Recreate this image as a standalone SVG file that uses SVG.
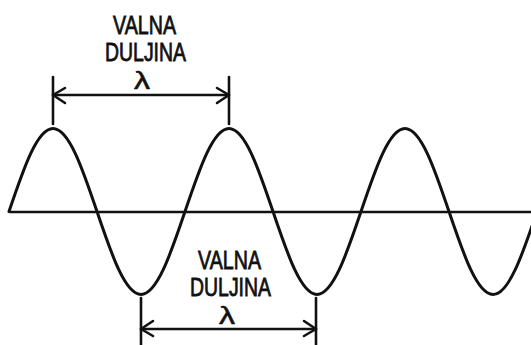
<svg xmlns="http://www.w3.org/2000/svg" width="531" height="345" viewBox="0 0 531 345">
  <defs>
    <style>
      .ln { stroke: #111; stroke-width: 2.6; fill: none; stroke-linecap: round; stroke-linejoin: round; }
      .wave { stroke: #111; stroke-width: 3; fill: none; stroke-linecap: round; }
      .lbl { font-family: "Liberation Sans", Arial, sans-serif; font-size: 26px; fill: #111; stroke: #111; stroke-width: 0.8; }
      .lam { font-family: "Liberation Sans", Arial, sans-serif; font-size: 23px; fill: #111; stroke: #111; stroke-width: 0.5; }
    </style>
  </defs>
  <rect width="531" height="345" fill="#fff"/>
  <g id="axis">
    <line class="ln" x1="10" y1="212" x2="531" y2="212"/>
  </g>
  <g id="wave">
    <path class="wave" d="M9,211.5 c14.35,-42.5 28.08,-83 44,-83 s29.65,40.5 44,83 s28.08,83 44,83 s29.65,-40.5 44,-83 s28.08,-83 44,-83 s29.65,40.5 44,83 s28.08,83 44,83 s29.65,-40.5 44,-83 s28.08,-83 44,-83 s29.65,40.5 44,83 s28.08,83 44,83 s29.65,-40.5 44,-83"/>
  </g>
  <g id="connectors">
    <g id="dim-top">
      <line class="ln" x1="53" y1="77" x2="53" y2="124"/>
      <line class="ln" x1="229" y1="77" x2="229" y2="124"/>
      <line class="ln" x1="53" y1="95" x2="229" y2="95"/>
      <polyline class="ln" points="65,88 53,95 65,103"/>
      <polyline class="ln" points="217,88 229,95 217,103"/>
    </g>
    <g id="dim-bottom">
      <line class="ln" x1="141" y1="298" x2="141" y2="345"/>
      <line class="ln" x1="316" y1="298" x2="316" y2="345"/>
      <line class="ln" x1="141" y1="329" x2="316" y2="329"/>
      <polyline class="ln" points="153,321 141,329 153,336"/>
      <polyline class="ln" points="304,321 316,329 304,336"/>
    </g>
  </g>
  <g id="label-top">
    <text class="lbl" x="113" y="34" textLength="63" lengthAdjust="spacingAndGlyphs">VALNA</text>
    <text class="lbl" x="105" y="61" textLength="81" lengthAdjust="spacingAndGlyphs">DULJINA</text>
    <text class="lam" x="134" y="88.5" textLength="16" lengthAdjust="spacingAndGlyphs">λ</text>
  </g>
  <g id="label-bottom">
    <text class="lbl" x="198" y="269" textLength="63" lengthAdjust="spacingAndGlyphs">VALNA</text>
    <text class="lbl" x="190" y="296" textLength="81" lengthAdjust="spacingAndGlyphs">DULJINA</text>
    <text class="lam" x="219" y="323.5" textLength="16" lengthAdjust="spacingAndGlyphs">λ</text>
  </g>
</svg>
